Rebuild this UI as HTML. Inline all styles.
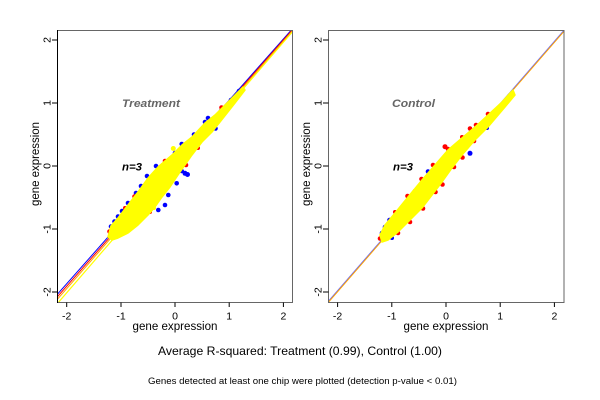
<!DOCTYPE html>
<html><head><meta charset="utf-8"><style>
html,body{margin:0;padding:0;background:#fff;}
svg{display:block;font-family:"Liberation Sans",Arial,sans-serif;}
</style></head><body>
<svg width="600" height="400" viewBox="0 0 600 400" xmlns="http://www.w3.org/2000/svg">
<rect width="600" height="400" fill="#fff"/>
<defs>
<clipPath id="c1"><rect x="57.5" y="30.5" width="235" height="272"/></clipPath>
<clipPath id="c2"><rect x="328.5" y="30.5" width="236" height="272"/></clipPath>
</defs>

<!-- LEFT PANEL -->
<g clip-path="url(#c1)">
  <line x1="55" y1="297" x2="294" y2="27" stroke="#0000ff" stroke-width="1"/>
  <line x1="55" y1="299.5" x2="294" y2="28" stroke="#ff0000" stroke-width="1"/>
  <line x1="55" y1="302" x2="294" y2="29" stroke="#ffa500" stroke-width="1"/>
  <line x1="57" y1="304" x2="294" y2="30" stroke="#ffff00" stroke-width="1.2"/>
  <g fill="#0000ff">
    <circle cx="181.7" cy="144" r="2.3"/><circle cx="175" cy="153" r="2.3"/>
    <circle cx="185" cy="173.3" r="2.5"/><circle cx="187.5" cy="174.5" r="2.5"/><circle cx="181.7" cy="171" r="2.3"/>
    <circle cx="176.7" cy="183.3" r="2.3"/><circle cx="168.3" cy="195" r="2.3"/><circle cx="158.3" cy="210" r="2.3"/>
    <circle cx="147" cy="176" r="2.3"/><circle cx="136" cy="193" r="2.3"/><circle cx="128" cy="203" r="2.3"/>
    <circle cx="118" cy="216.5" r="2.3"/><circle cx="114.5" cy="221.5" r="2.3"/><circle cx="111" cy="226.5" r="2.3"/>
    <circle cx="215.5" cy="128.5" r="2.3"/><circle cx="205" cy="122" r="2.3"/><circle cx="208" cy="118" r="2.3"/>
    <circle cx="194" cy="134.5" r="2.3"/><circle cx="221" cy="111" r="2.3"/><circle cx="231" cy="100" r="2.3"/>
    <circle cx="239" cy="91" r="2.3"/><circle cx="156" cy="166" r="2.3"/><circle cx="165" cy="205" r="2.3"/>
    <circle cx="141" cy="186" r="2.3"/><circle cx="122" cy="211" r="2.3"/>
  </g>
  <g fill="#ff0000">
    <circle cx="109.5" cy="231.5" r="2.3"/><circle cx="110.5" cy="236.5" r="2.3"/><circle cx="186" cy="165" r="2.3"/>
    <circle cx="165" cy="161" r="2.3"/><circle cx="134.5" cy="196.5" r="2.3"/><circle cx="205" cy="132" r="2.3"/>
    <circle cx="221.5" cy="107.5" r="2.3"/><circle cx="125" cy="208" r="2"/><circle cx="150" cy="212" r="2"/>
    <circle cx="198" cy="148" r="2"/>
  </g>
  <polygon fill="#ffff00" stroke="#ffff00" stroke-width="1.5" stroke-linejoin="round" points="108,237 111,226 118,218 128,205 138,192 148,178 158,167 172,155 182,145 192,137 205,123 215,115 228,102 238,92 243,87 245,90 235,103 220,122 212,132 202,142 192,155 185,165 178,175 170,187 162,197 155,207 148,215 138,225 128,233 118,238 112,240"/>
  <circle cx="173.3" cy="148.5" r="2.5" fill="#ffff00"/>
  <circle cx="154" cy="208" r="2" fill="#ffff00"/>
</g>
<rect x="57.5" y="30.5" width="235" height="272" fill="none" stroke="#666" stroke-width="1"/>
<line x1="57.5" y1="30" x2="57.5" y2="303" stroke="#000" stroke-width="1"/>
<!-- left ticks -->
<g stroke="#000" stroke-width="1">
  <line x1="66.7" y1="302.5" x2="66.7" y2="307"/><line x1="121" y1="302.5" x2="121" y2="307"/>
  <line x1="175" y1="302.5" x2="175" y2="307"/><line x1="229.2" y1="302.5" x2="229.2" y2="307"/>
  <line x1="283.4" y1="302.5" x2="283.4" y2="307"/>
  <line x1="52" y1="40" x2="57.5" y2="40"/><line x1="52" y1="103" x2="57.5" y2="103"/>
  <line x1="52" y1="166" x2="57.5" y2="166"/><line x1="52" y1="229" x2="57.5" y2="229"/>
  <line x1="52" y1="292" x2="57.5" y2="292"/>
</g>
<g font-size="10.5" fill="#000" text-anchor="middle">
  <text x="66.7" y="319.5">-2</text><text x="121" y="319.5">-1</text><text x="175" y="319.5">0</text>
  <text x="229.2" y="319.5">1</text><text x="283.4" y="319.5">2</text>
  <text transform="translate(50.5,40) rotate(-90)">2</text>
  <text transform="translate(50.5,103) rotate(-90)">1</text>
  <text transform="translate(50.5,166) rotate(-90)">0</text>
  <text transform="translate(50.5,229) rotate(-90)">-1</text>
  <text transform="translate(50.5,292) rotate(-90)">-2</text>
</g>
<g font-size="11.5" fill="#000" text-anchor="middle">
  <text x="175" y="330" textLength="85" lengthAdjust="spacingAndGlyphs">gene expression</text>
  <text transform="translate(39,164) rotate(-90)" textLength="84" lengthAdjust="spacingAndGlyphs">gene expression</text>
</g>
<text x="122" y="107" font-size="11" font-weight="bold" font-style="italic" fill="#666" textLength="58" lengthAdjust="spacingAndGlyphs">Treatment</text>
<text x="122" y="170.5" font-size="11" font-weight="bold" font-style="italic" fill="#000" textLength="20" lengthAdjust="spacingAndGlyphs">n=3</text>

<!-- RIGHT PANEL -->
<g clip-path="url(#c2)">
  <line x1="326" y1="304" x2="566" y2="28" stroke="#6666ff" stroke-width="1"/>
  <line x1="326.5" y1="304.5" x2="566" y2="29" stroke="#ffa500" stroke-width="1"/>
  <g fill="#ff0000">
    <circle cx="433" cy="165" r="2.3"/><circle cx="470" cy="128.5" r="2.3"/>
    <circle cx="462.5" cy="157.5" r="2.3"/><circle cx="454" cy="167" r="2.3"/><circle cx="442.5" cy="184.5" r="2.3"/>
    <circle cx="435.5" cy="192" r="2.3"/><circle cx="421.5" cy="179" r="2.3"/><circle cx="407.5" cy="196" r="2.3"/>
    <circle cx="380" cy="238.5" r="2.3"/><circle cx="398" cy="233" r="2.3"/><circle cx="410" cy="222" r="2.3"/>
    <circle cx="423" cy="208.5" r="2.3"/><circle cx="488" cy="114" r="2.3"/><circle cx="476" cy="125" r="2.3"/>
    <circle cx="503" cy="106.5" r="2.3"/><circle cx="474" cy="141" r="2.3"/><circle cx="448" cy="149" r="2.3"/>
    <circle cx="395" cy="212" r="2"/><circle cx="462" cy="137" r="2"/>
  </g>
  <g fill="#0000ff">
    <circle cx="382" cy="233" r="2.3"/><circle cx="389.5" cy="220" r="2.3"/>
    <circle cx="428" cy="171.5" r="2.3"/><circle cx="385" cy="227" r="2.3"/><circle cx="415" cy="191" r="2.3"/>
    <circle cx="392" cy="238" r="2"/><circle cx="487" cy="128" r="2"/>
  </g>
  <polygon fill="#ffff00" stroke="#ffff00" stroke-width="1.5" stroke-linejoin="round" points="380,235 385,225 395,213 408,197 422,180 435,165 448,150 462,138 475,127 488,115 502,102 510,93 513,90 515,95 505,107 488,127 475,140 462,155 452,168 442,182 432,195 422,208 408,222 398,232 388,240 382,242"/>
  <circle cx="445" cy="146.7" r="2.5" fill="#ff0000"/>
  <circle cx="470" cy="153.3" r="2.5" fill="#0000ff"/>
</g>
<rect x="328.5" y="30.5" width="235.5" height="272" fill="none" stroke="#666" stroke-width="1"/>
<g stroke="#000" stroke-width="1">
  <line x1="337.6" y1="302.5" x2="337.6" y2="307"/><line x1="391.8" y1="302.5" x2="391.8" y2="307"/>
  <line x1="446" y1="302.5" x2="446" y2="307"/><line x1="500.2" y1="302.5" x2="500.2" y2="307"/>
  <line x1="554.4" y1="302.5" x2="554.4" y2="307"/>
  <line x1="323" y1="40" x2="328.5" y2="40"/><line x1="323" y1="103" x2="328.5" y2="103"/>
  <line x1="323" y1="166" x2="328.5" y2="166"/><line x1="323" y1="229" x2="328.5" y2="229"/>
  <line x1="323" y1="292" x2="328.5" y2="292"/>
</g>
<g font-size="10.5" fill="#000" text-anchor="middle">
  <text x="337.6" y="319.5">-2</text><text x="391.8" y="319.5">-1</text><text x="446" y="319.5">0</text>
  <text x="500.2" y="319.5">1</text><text x="554.4" y="319.5">2</text>
  <text transform="translate(321.5,40) rotate(-90)">2</text>
  <text transform="translate(321.5,103) rotate(-90)">1</text>
  <text transform="translate(321.5,166) rotate(-90)">0</text>
  <text transform="translate(321.5,229) rotate(-90)">-1</text>
  <text transform="translate(321.5,292) rotate(-90)">-2</text>
</g>
<g font-size="11.5" fill="#000" text-anchor="middle">
  <text x="446" y="330" textLength="85" lengthAdjust="spacingAndGlyphs">gene expression</text>
  <text transform="translate(310,164) rotate(-90)" textLength="84" lengthAdjust="spacingAndGlyphs">gene expression</text>
</g>
<text x="392" y="107" font-size="11" font-weight="bold" font-style="italic" fill="#666" textLength="43" lengthAdjust="spacingAndGlyphs">Control</text>
<text x="393" y="170.5" font-size="11" font-weight="bold" font-style="italic" fill="#000" textLength="20" lengthAdjust="spacingAndGlyphs">n=3</text>

<!-- bottom text -->
<text x="158" y="355" font-size="12" fill="#000" textLength="284" lengthAdjust="spacingAndGlyphs">Average R-squared: Treatment (0.99), Control (1.00)</text>
<text x="148" y="384" font-size="9" fill="#000" textLength="309" lengthAdjust="spacingAndGlyphs">Genes detected at least one chip were plotted (detection p-value &lt; 0.01)</text>
</svg>
</body></html>
